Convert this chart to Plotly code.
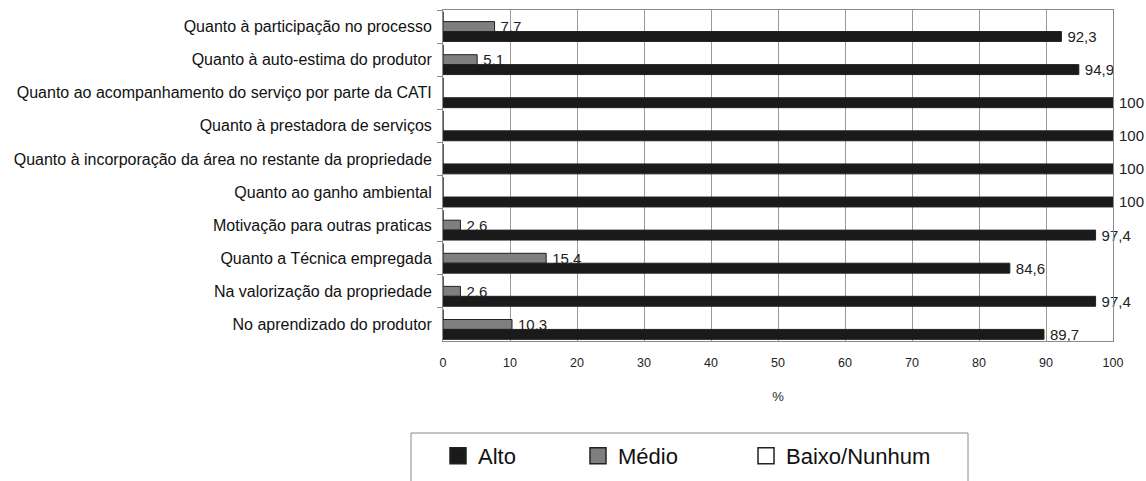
import plotly.graph_objects as go

categories = [
    "Quanto à participação no processo",
    "Quanto à auto-estima do produtor",
    "Quanto ao acompanhamento do serviço por parte da CATI",
    "Quanto à prestadora de serviços",
    "Quanto à incorporação da área no restante da propriedade",
    "Quanto ao ganho ambiental",
    "Motivação para outras praticas",
    "Quanto a Técnica empregada",
    "Na valorização da propriedade",
    "No aprendizado do produtor",
]
alto = [92.3, 94.9, 100, 100, 100, 100, 97.4, 84.6, 97.4, 89.7]
medio = [7.7, 5.1, 0, 0, 0, 0, 2.6, 15.4, 2.6, 10.3]
baixo = [0, 0, 0, 0, 0, 0, 0, 0, 0, 0]
x_ticks = [0, 10, 20, 30, 40, 50, 60, 70, 80, 90, 100]

FONT = "Liberation Sans, Arial, sans-serif"


def fmt(v):
    if v == 0:
        return ""
    if float(v).is_integer():
        return "\u2009" + str(int(v))
    return "\u2009" + f"{v:.1f}".replace(".", ",")


L, R, T, B = 443, 33, 10, 140
W, H = 1146, 481
pw = W - L - R
ph = H - T - B


def px_to_paper_x(px):
    return (px - L) / pw


def py_to_paper_y(py):
    return (H - B - py) / ph


fig = go.Figure()

series = [
    ("Baixo/Nunhum", baixo, "#ffffff"),
    ("Médio", medio, "#7f7f7f"),
    ("Alto", alto, "#1a1a1a"),
]
for name, vals, col in series:
    fig.add_trace(go.Bar(
        y=categories, x=vals, orientation="h", name=name,
        marker=dict(color=col, line=dict(color="#222222", width=1)),
        text=[fmt(v) for v in vals], textposition="outside",
        constraintext="none",
        textfont=dict(family=FONT, size=15, color="#222222"),
        cliponaxis=False, showlegend=False,
    ))

# legend entries, each in its own legend so they can be spaced like the original
legend_specs = [
    ("Alto", "#1a1a1a", "legend", 478),
    ("Médio", "#7f7f7f", "legend2", 618),
    ("Baixo/Nunhum", "#ffffff", "legend3", 786),
]
legend_layout = {}
for name, col, lg, text_x in legend_specs:
    fig.add_trace(go.Scatter(
        x=[None], y=[None], mode="markers", name=name, legend=lg,
        marker=dict(symbol="square", size=16, color=col,
                    line=dict(color="#222222", width=1.5)),
        showlegend=True, hoverinfo="skip",
    ))
    legend_layout[lg] = dict(
        orientation="h", xanchor="left", yanchor="middle",
        x=px_to_paper_x(text_x - 40), y=py_to_paper_y(456),
        bgcolor="rgba(0,0,0,0)", borderwidth=0,
        font=dict(size=22, color="#111111", family=FONT),
        itemclick=False, itemdoubleclick=False,
    )

fig.update_layout(
    width=W, height=H,
    margin=dict(l=L, r=R, t=T, b=B, pad=0, autoexpand=False),
    paper_bgcolor="white", plot_bgcolor="white",
    barmode="group", bargap=0.1, bargroupgap=0,
    font=dict(family=FONT, color="#222222"),
    xaxis=dict(
        range=[0, 100], tickvals=x_ticks, ticktext=[str(t) for t in x_ticks],
        showgrid=True, gridcolor="#9a9a9a", gridwidth=1,
        showline=True, linecolor="#8a8a8a", linewidth=1, mirror=True,
        ticks="", tickfont=dict(size=12.5, color="#222222"),
        ticklabelstandoff=10,
        title=dict(text="%", font=dict(size=13, color="#222222"), standoff=22),
        zeroline=False,
    ),
    yaxis=dict(
        autorange="reversed", type="category",
        showgrid=False, showline=True, linecolor="#8a8a8a", linewidth=1,
        mirror=True, ticks="outside", ticklen=5, tickcolor="#8a8a8a",
        tickson="boundaries", ticklabelstandoff=7,
        tickfont=dict(size=16, color="#111111"),
    ),
    shapes=[dict(
        type="rect", xref="paper", yref="paper",
        x0=px_to_paper_x(411), x1=px_to_paper_x(968),
        y0=py_to_paper_y(492), y1=py_to_paper_y(433),
        line=dict(color="#8a8a8a", width=1), fillcolor="rgba(0,0,0,0)",
        layer="below",
    )],
    **legend_layout,
)

fig.write_html("out.html")
